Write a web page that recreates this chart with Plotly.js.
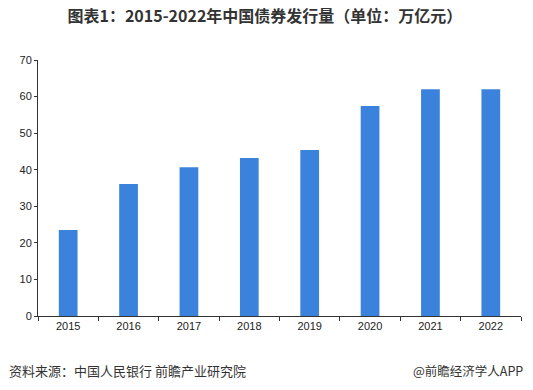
<!DOCTYPE html>
<html>
<head>
<meta charset="utf-8">
<script src="https://cdn.plot.ly/plotly-3.0.1.min.js"></script>
<style>html,body{margin:0;padding:0;background:#fff;}#chart{width:533px;height:390px;}</style>
</head>
<body>
<div id="chart"></div>
<script>
const years = ["2015","2016","2017","2018","2019","2020","2021","2022"];
const issuance = [23.5, 36.1, 40.7, 43.2, 45.4, 57.4, 62.0, 62.0];
const yTicks = [0,10,20,30,40,50,60,70];

const fontFamily = "'Noto Sans CJK SC', 'Liberation Sans', sans-serif";
const trace = {
  type: "bar",
  x: years,
  y: issuance,
  marker: {color: "#3B82DC"},
  hoverinfo: "x+y"
};
const layout = {
  width: 533, height: 390,
  margin: {l: 38, r: 12, t: 60, b: 74},
  paper_bgcolor: "#fff", plot_bgcolor: "#fff",
  bargap: 0.69,
  showlegend: false,
  font: {family: fontFamily, size: 11, color: "#333"},
  title: {
    text: "<b>图表1：2015-2022年中国债券发行量（单位：万亿元）</b>",
    x: 0.497, xanchor: "center", y: 0.958, yanchor: "middle",
    font: {family: fontFamily, size: 16, color: "#333"}
  },
  xaxis: {
    type: "category",
    showline: true, linecolor: "#333", linewidth: 1,
    ticks: "outside", tickson: "boundaries", ticklen: 4, tickcolor: "#333",
    showgrid: false, zeroline: false,
    tickfont: {family: "'Liberation Sans', sans-serif", size: 11, color: "#222"}
  },
  yaxis: {
    range: [0, 70],
    tickvals: yTicks,
    showline: true, linecolor: "#333", linewidth: 1,
    ticks: "outside", ticklen: 3, tickcolor: "#333",
    showgrid: false, zeroline: false,
    tickfont: {family: "'Liberation Sans', sans-serif", size: 11, color: "#222"}
  },
  annotations: [
    {text: "资料来源：中国人民银行 前瞻产业研究院", xref: "paper", yref: "paper",
     x: -31/483, y: -54/256, xanchor: "left", yanchor: "middle", showarrow: false,
     font: {family: fontFamily, size: 13, color: "#333"}},
    {text: "@前瞻经济学人APP", xref: "paper", yref: "paper",
     x: 1 + 4/483, y: -54/256, xanchor: "right", yanchor: "middle", showarrow: false,
     font: {family: fontFamily, size: 12.5, color: "#333"}}
  ]
};
Plotly.newPlot("chart", [trace], layout, {displayModeBar: false, staticPlot: true});
</script>
</body>
</html>
